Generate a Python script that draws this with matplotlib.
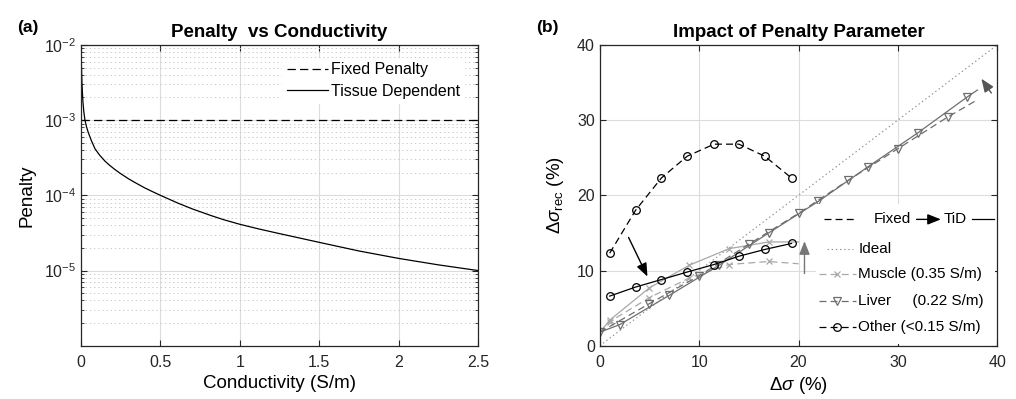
import matplotlib
matplotlib.use("Agg")
import matplotlib.pyplot as plt
from matplotlib.patches import Rectangle
from matplotlib.lines import Line2D
from matplotlib.ticker import FixedLocator, NullFormatter, MultipleLocator, FormatStrFormatter

plt.rcParams['font.family'] = ['Liberation Sans', 'DejaVu Sans']
plt.rcParams['mathtext.fontset'] = 'custom'
plt.rcParams['mathtext.rm'] = 'Liberation Sans'
plt.rcParams['mathtext.it'] = 'Liberation Sans:italic'
plt.rcParams['mathtext.bf'] = 'Liberation Sans:bold'
plt.rcParams['lines.scale_dashes'] = False

# ---- (a) penalty vs conductivity
conductivity = [0.002, 0.006, 0.012, 0.018, 0.025, 0.035, 0.046, 0.065, 0.088, 0.115,
                0.151, 0.18, 0.214, 0.25, 0.297, 0.35, 0.4, 0.45, 0.5, 0.612, 0.7,
                0.82, 0.9, 1.0, 1.12, 1.24, 1.5, 1.75, 2.0, 2.25, 2.5]
penalty_tissue = [6.3e-3, 3.16e-3, 1.78e-3, 1.29e-3, 1.0e-3, 8.13e-4, 6.84e-4, 5.37e-4,
                  4.17e-4, 3.47e-4, 2.85e-4, 2.51e-4, 2.2e-4, 1.94e-4, 1.67e-4, 1.44e-4,
                  1.26e-4, 1.12e-4, 1.0e-4, 7.85e-5, 6.61e-5, 5.37e-5, 4.73e-5, 4.12e-5,
                  3.57e-5, 3.13e-5, 2.37e-5, 1.82e-5, 1.45e-5, 1.19e-5, 1.0e-5]
penalty_fixed = 1e-3
cond_range = [0, 2.5]

# ---- (b) impact of the penalty parameter
dsig_other = [1.0, 3.6, 6.2, 8.8, 11.5, 14.0, 16.6, 19.3]
other_fixed = [12.3, 18.0, 22.3, 25.2, 26.8, 26.8, 25.2, 22.3]
other_tid = [6.6, 7.8, 8.8, 9.8, 10.8, 11.9, 12.8, 13.6]

dsig_muscle = [0, 1, 5, 9, 13, 17, 20]
muscle_fixed = [1.8, 3.2, 6.4, 9.0, 10.8, 11.2, 10.9]
muscle_tid = [1.8, 3.4, 7.7, 10.7, 12.9, 13.8, 13.8]

dsig_liver_fixed = [0, 5, 10, 15, 20, 25, 30, 35, 38]
liver_fixed = [1.8, 5.6, 9.3, 13.5, 17.6, 22.0, 26.2, 30.4, 32.7]
dsig_liver_tid = [0, 2, 7, 12, 17, 22, 27, 32, 37, 38]
liver_tid = [1.8, 2.8, 6.7, 10.7, 15.0, 19.2, 23.8, 28.3, 33.1, 34.0]

ideal = [0, 40]

arrow_other = [(2.9, 14.4), (4.8, 9.2)]
arrow_muscle = [(20.6, 9.6), (20.6, 13.9)]
arrow_liver = [(39.4, 33.6), (38.4, 35.5)]

legend_rows = ['Ideal', 'Muscle (0.35 S/m)', 'Liver     (0.22 S/m)', 'Other (<0.15 S/m)']

c_muscle = '#a8a8a8'
c_liver = '#6e6e6e'
c_grid = '#dcdcdc'
c_axis = '#262626'
dash = (0, (5, 3))
head = '-|>,head_length=0.8,head_width=0.32'

fig = plt.figure(figsize=(10.16, 3.99), dpi=100)
ax_a = fig.add_axes([0.0797, 0.1335, 0.3907, 0.754])
ax_b = fig.add_axes([0.5903, 0.1335, 0.3913, 0.754])


def style_axes(ax):
    for s in ax.spines.values():
        s.set_color(c_axis)
        s.set_linewidth(0.9)
    ax.tick_params(which='both', direction='in', top=True, right=True,
                   colors=c_axis, labelsize=11.5, labelcolor='#262626')
    ax.tick_params(which='major', length=4.5, width=0.8)
    ax.tick_params(which='minor', length=2.5, width=0.6)
    ax.tick_params(axis='x', which='both', pad=7)
    ax.set_axisbelow(True)


# ---------------- (a)
ax_a.plot(cond_range, [penalty_fixed, penalty_fixed], color='black', lw=0.9,
          linestyle=(0, (6, 3)), label='Fixed Penalty')
ax_a.plot(conductivity, penalty_tissue, color='black', lw=0.9, label='Tissue Dependent')
ax_a.set_yscale('log')
ax_a.set_xlim(0, 2.5)
ax_a.set_ylim(1e-6, 1e-2)
ax_a.xaxis.set_major_locator(MultipleLocator(0.5))
ax_a.xaxis.set_major_formatter(FormatStrFormatter('%g'))
ax_a.yaxis.set_major_locator(FixedLocator([1e-5, 1e-4, 1e-3, 1e-2]))
minors = [m * 10.0 ** e for e in range(-6, -2) for m in range(2, 10)]
ax_a.yaxis.set_minor_locator(FixedLocator(minors))
ax_a.yaxis.set_minor_formatter(NullFormatter())
ax_a.grid(True, which='major', color=c_grid, lw=0.8)
ax_a.grid(True, which='minor', axis='y', color='#c4c4c4', lw=0.6, linestyle=(0, (1, 2)))
style_axes(ax_a)
ax_a.set_xlabel('Conductivity (S/m)', fontsize=13.5, labelpad=3)
ax_a.set_ylabel('Penalty', fontsize=13.5, labelpad=6)
ax_a.set_title('Penalty  vs Conductivity', fontsize=13.5, fontweight='bold', pad=6)
leg = ax_a.legend(loc='upper right', fontsize=11.5, frameon=True, framealpha=1,
                  edgecolor='none', facecolor='white', handlelength=2.6,
                  handletextpad=0.2, labelspacing=0.4, borderaxespad=0.8,
                  borderpad=0.3)
leg.get_frame().set_boxstyle('square', pad=0)
fig.text(0.017, 0.932, '(a)', fontsize=12.5, fontweight='bold', va='center')

# ---------------- (b)
ax_b.plot(ideal, ideal, color='#8c8c8c', lw=0.8, linestyle=(0, (1, 2)))
ax_b.plot(dsig_muscle, muscle_fixed, color=c_muscle, lw=0.9, linestyle=dash,
          marker='x', ms=4.5, mew=0.9, markevery=slice(1, 6))
ax_b.plot(dsig_muscle, muscle_tid, color=c_muscle, lw=0.9,
          marker='x', ms=4.5, mew=0.9, markevery=slice(1, 6))
ax_b.plot(dsig_liver_fixed, liver_fixed, color=c_liver, lw=0.9, linestyle=dash,
          marker='v', ms=5.5, mfc='none', mew=0.9, markevery=slice(0, 8))
ax_b.plot(dsig_liver_tid, liver_tid, color=c_liver, lw=0.9,
          marker='v', ms=5.5, mfc='none', mew=0.9, markevery=slice(1, 9))
ax_b.plot(dsig_other, other_fixed, color='black', lw=0.9, linestyle=dash,
          marker='o', ms=5.5, mfc='none', mew=0.9)
ax_b.plot(dsig_other, other_tid, color='black', lw=0.9,
          marker='o', ms=5.5, mfc='none', mew=0.9)

for (p0, p1), col in [(arrow_other, 'black'), (arrow_muscle, '#777777'),
                      (arrow_liver, '#555555')]:
    ax_b.annotate('', xy=p1, xytext=p0,
                  arrowprops=dict(arrowstyle=head, color=col, lw=1.0,
                                  shrinkA=0, shrinkB=0))

ax_b.set_xlim(0, 40)
ax_b.set_ylim(0, 40)
ax_b.xaxis.set_major_locator(MultipleLocator(10))
ax_b.yaxis.set_major_locator(MultipleLocator(10))
ax_b.grid(True, which='major', color=c_grid, lw=0.8)
style_axes(ax_b)
ax_b.set_xlabel(r'$\Delta\sigma$ (%)', fontsize=13.5, labelpad=3)
ax_b.set_ylabel(r'$\Delta\sigma_{\mathrm{rec}}$ (%)', fontsize=13.5, labelpad=8)
ax_b.set_title('Impact of Penalty Parameter', fontsize=13.5, fontweight='bold', pad=6)
fig.text(0.528, 0.932, '(b)', fontsize=12.5, fontweight='bold', va='center')

# custom legend for (b)
tr = ax_b.transAxes
ax_b.add_patch(Rectangle((0.545, 0.006), 0.449, 0.466, transform=tr,
                         facecolor='white', edgecolor='none', zorder=5))
fs = 11
y1 = 0.42
ax_b.add_line(Line2D([0.565, 0.646], [y1, y1], transform=tr, color='black',
                     lw=0.9, linestyle=dash, zorder=6))
ax_b.text(0.688, y1, 'Fixed', transform=tr, fontsize=fs, va='center', zorder=6)
ax_b.annotate('', xy=(0.858, y1), xytext=(0.797, y1), xycoords=tr, textcoords=tr,
              arrowprops=dict(arrowstyle=head, color='black', lw=1.0,
                              shrinkA=0, shrinkB=0), zorder=6)
ax_b.text(0.866, y1, 'TiD', transform=tr, fontsize=fs, va='center', zorder=6)
ax_b.add_line(Line2D([0.936, 0.992], [y1, y1], transform=tr, color='black',
                     lw=0.9, zorder=6))

row_y = [0.322, 0.237, 0.15, 0.061]
row_style = [
    dict(color='#8c8c8c', lw=0.8, linestyle=(0, (1, 2))),
    dict(color=c_muscle, lw=0.9, linestyle=dash, marker='x', ms=4.5, mew=0.9),
    dict(color=c_liver, lw=0.9, linestyle=dash, marker='v', ms=5.5, mfc='none', mew=0.9),
    dict(color='black', lw=0.9, linestyle=dash, marker='o', ms=5.5, mfc='none', mew=0.9),
]
for i, (label, yy, st) in enumerate(zip(legend_rows, row_y, row_style)):
    if i == 0:
        ax_b.add_line(Line2D([0.572, 0.638], [yy, yy], transform=tr, zorder=6, **st))
    else:
        ax_b.add_line(Line2D([0.551, 0.645], [yy, yy], transform=tr, zorder=6,
                             **{k: v for k, v in st.items() if k not in ('marker', 'ms', 'mfc', 'mew')}))
        mk = {k: v for k, v in st.items() if k in ('marker', 'ms', 'mfc', 'mew', 'color')}
        ax_b.add_line(Line2D([0.598], [yy], transform=tr, zorder=7, linestyle='none', **mk))
    ax_b.text(0.650, yy, label, transform=tr, fontsize=fs, va='center', zorder=6)

fig.savefig('out.png', dpi=100)
